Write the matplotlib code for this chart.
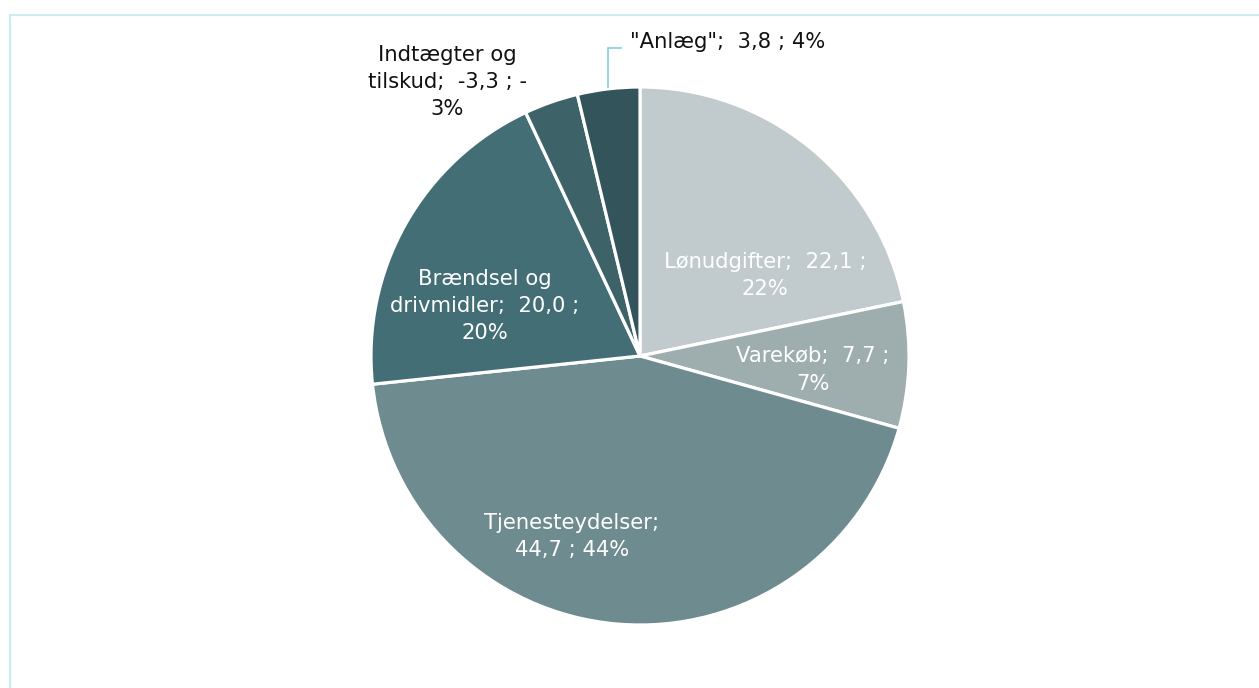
import matplotlib
matplotlib.use("Agg")
import matplotlib.pyplot as plt
from matplotlib.patches import Rectangle
import numpy as np

categories = ["Lønudgifter", "Varekøb", "Tjenesteydelser", "Brændsel og\ndrivmidler",
              "Indtægter og\ntilskud", "\"Anlæg\""]
values = [22.1, 7.7, 44.7, 20.0, -3.3, 3.8]
label_texts = [
    "Lønudgifter;  22,1 ;\n22%",
    "Varekøb;  7,7 ;\n7%",
    "Tjenesteydelser;\n44,7 ; 44%",
    "Brændsel og\ndrivmidler;  20,0 ;\n20%",
    "Indtægter og\ntilskud;  -3,3 ; -\n3%",
    "\"Anlæg\";  3,8 ; 4%",
]
colors = ["#c1cacc", "#9eaeaf", "#6e8b90", "#436e75", "#3d6369", "#32545a"]

W, H = 1259, 688
cx, cy, R = 640, 356, 269

fig = plt.figure(figsize=(W / 100, H / 100), dpi=100)
fig.patches.append(Rectangle((9.5 / W, -0.1), 1.2, (H - 14.5) / H + 0.1, transform=fig.transFigure,
                             fill=False, edgecolor="#c9edf1", linewidth=1.6))
ax = fig.add_axes([0, 0, 1, 1])

sizes = [abs(v) for v in values]
wedges, _ = ax.pie(sizes, colors=colors, startangle=90, counterclock=False, radius=1.0,
                   center=(0, 0), wedgeprops=dict(edgecolor="white", linewidth=2.3))
ax.set_aspect("auto")
ax.set_xlim((0 - cx) / R, (W - cx) / R)
ax.set_ylim((cy - H) / R, cy / R)
ax.axis("off")

# label positions (in pie-radius units) and colours
pos = [(0.466, 0.298), (0.642, -0.052), (-0.254, -0.67), (-0.578, 0.186),
       (-0.716, 1.019), (0.325, 1.168)]
tcolors = ["white", "white", "white", "white", "#111111", "#111111"]
for txt, (x, y), c in zip(label_texts, pos, tcolors):
    ax.text(x, y, txt, ha="center", va="center", color=c, fontsize=15.2,
            family="DejaVu Sans", linespacing=1.45)

# leader line for "Anlæg"
x0 = (608 - cx) / R
ax.plot([x0, x0, (621 - cx) / R], [(cy - 87) / R, (cy - 48) / R, (cy - 48) / R],
        color="#7fd0dc", linewidth=1.2, solid_joinstyle="miter")

fig.savefig("out.png", dpi=100)
